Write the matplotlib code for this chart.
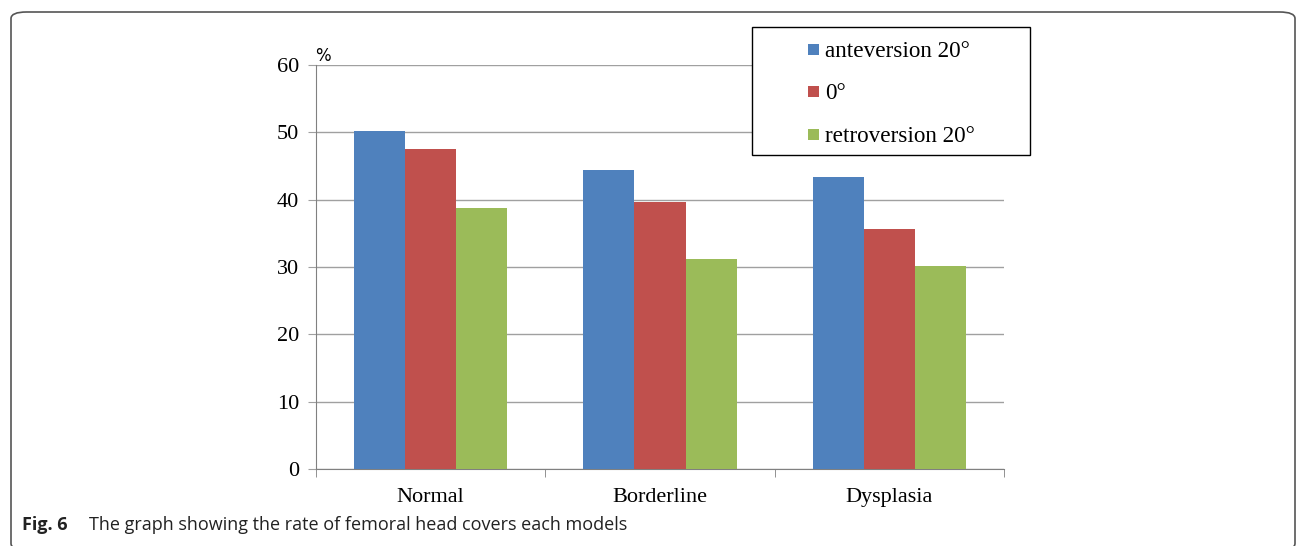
import matplotlib.pyplot as plt
from matplotlib.patches import FancyBboxPatch, Rectangle
import numpy as np

# data
categories = ['Normal', 'Borderline', 'Dysplasia']
series = ['anteversion 20°', '0°', 'retroversion 20°']
values = [
    [50.2, 44.4, 43.4],   # anteversion 20
    [47.5, 39.7, 35.6],   # 0
    [38.8, 31.2, 30.1],   # retroversion 20
]
colors = ['#4f81bd', '#c0504d', '#9bbb59']
yticks = [0, 10, 20, 30, 40, 50, 60]

W, H = 1296, 546
fig = plt.figure(figsize=(W / 100, H / 100), dpi=100)

# outer rounded frame, bottom edge just past the image
frame = FancyBboxPatch((11 / W, -4 / H), 1284 / W, (H - 12 + 4) / H,
                       boxstyle='round,pad=0,rounding_size=0.012',
                       transform=fig.transFigure, fill=False,
                       edgecolor='#555555', linewidth=1.2, clip_on=False)
fig.patches.append(frame)

ax = fig.add_axes([316 / W, (H - 469) / H, (1004 - 316) / W, (469 - 65) / H])
x = np.arange(len(categories))
bw = 0.223
for i, (vals, c) in enumerate(zip(values, colors)):
    ax.bar(x + (i - 1) * bw, vals, bw, color=c, zorder=3, linewidth=0)

ax.set_xlim(-0.5, len(categories) - 0.5)
ax.set_ylim(0, 60)
ax.set_yticks(yticks)
ax.yaxis.grid(True, color='#a0a0a0', linewidth=1.0, zorder=0)
ax.set_xticks(x)
ax.set_xticklabels(categories)
ax.set_xticks(np.arange(len(categories) + 1) - 0.5, minor=True)
ax.tick_params(axis='x', which='major', length=0, pad=14)
ax.tick_params(axis='x', which='minor', length=6, color='#808080', direction='out')
ax.tick_params(axis='y', length=6, color='#a0a0a0', direction='out', pad=6)
for lab in ax.get_xticklabels() + ax.get_yticklabels():
    lab.set_fontfamily('Liberation Serif')
    lab.set_fontsize(16)
for s in ['top', 'right']:
    ax.spines[s].set_visible(False)
for s in ['left', 'bottom']:
    ax.spines[s].set_color('#808080')

fig.text(315 / W, 1 - 56 / H, '%', fontsize=12, family='DejaVu Sans', va='center')

# legend box drawn by hand
fig.patches.append(Rectangle((752 / W, 1 - 155 / H), 278 / W, 128 / H,
                             transform=fig.transFigure, facecolor='white',
                             edgecolor='black', linewidth=1.0, zorder=5))
ys = [57, 99, 142]
for lab, c, yy in zip(series, colors, ys):
    fig.patches.append(Rectangle((808 / W, 1 - (yy - 2) / H), 11 / W, 11 / H,
                                 transform=fig.transFigure, facecolor=c,
                                 edgecolor='none', zorder=6))
    fig.text(825 / W, 1 - yy / H, lab, fontsize=16.7, family='Liberation Serif',
             va='baseline', zorder=7)

fig.text(22 / W, 1 - 525 / H, 'Fig. 6', fontsize=13, family='Open Sans',
         weight='bold', va='center', color='#222222')
fig.text(89 / W, 1 - 525 / H, 'The graph showing the rate of femoral head covers each models',
         fontsize=13, family='Open Sans', va='center', color='#222222')

fig.savefig('out.png', dpi=100)
